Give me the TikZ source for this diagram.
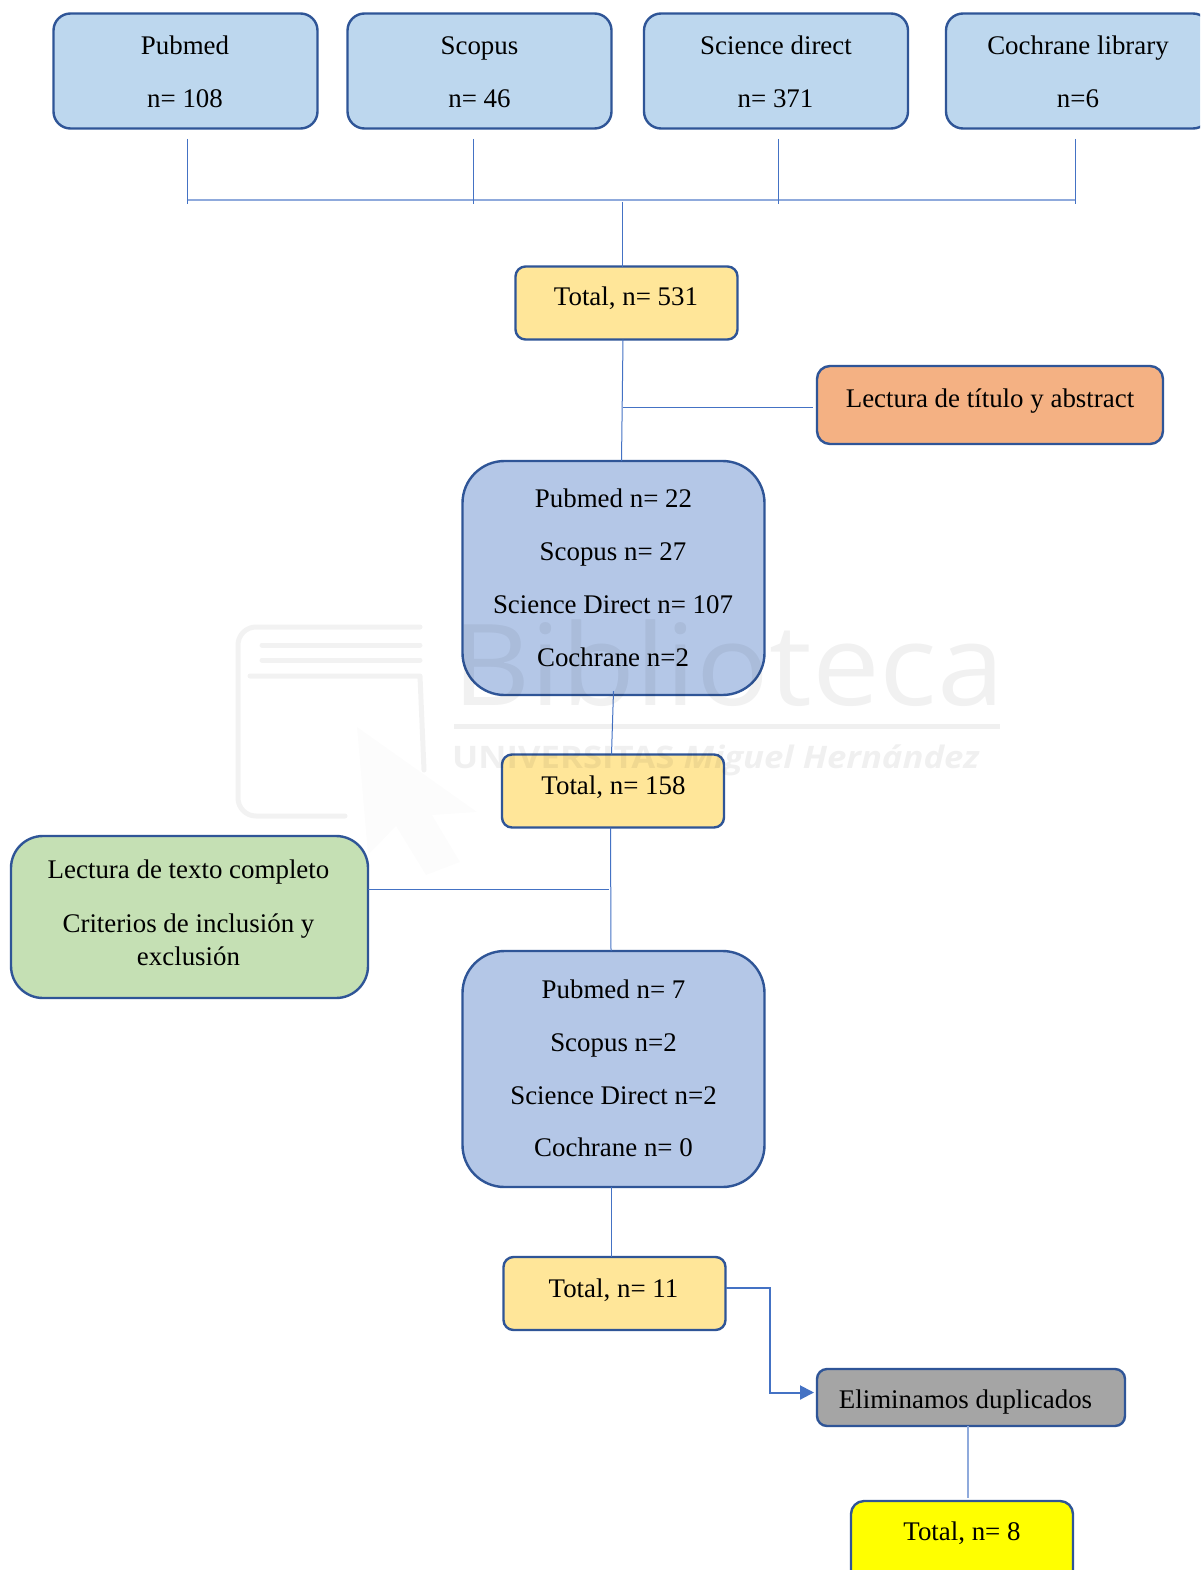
\documentclass[tikz,border=0pt]{standalone}
\usepackage{fontspec}
\setmainfont{Liberation Serif}
\newfontfamily\wmfont[FakeStretch=1.07]{Open Sans}
\newfontfamily\wmsmall[FakeStretch=1.12]{Open Sans}
\usetikzlibrary{arrows.meta}
\definecolor{edgeblue}{HTML}{2F5597}
\definecolor{linkblue}{HTML}{4472C4}
\definecolor{paleblue}{HTML}{8FAADC}
\definecolor{skyfill}{HTML}{BDD7EE}
\definecolor{bluefill}{HTML}{B4C7E7}
\definecolor{sandfill}{HTML}{FFE699}
\definecolor{orangefill}{HTML}{F4B183}
\definecolor{greenfill}{HTML}{C5E0B4}
\definecolor{greyfill}{HTML}{A5A5A5}
\definecolor{brightyellow}{RGB}{255,255,0}
\tikzset{
  x=1pt,y=-1pt,
  card/.style={draw=edgeblue,line width=2.4pt,inner sep=0pt,outer sep=0pt},
  source/.style={card,fill=skyfill,rounded corners=17pt,minimum width=264pt,minimum height=115pt},
  total/.style={card,fill=sandfill,rounded corners=10pt,minimum width=222pt,minimum height=73pt},
  group/.style={card,fill=bluefill,rounded corners=42pt,minimum width=302pt},
  txt/.style={anchor=base,inner sep=0pt,text=black,font=\fontsize{26.9}{32}\selectfont},
  link/.style={draw=linkblue,line width=1pt},
  palelink/.style={draw=paleblue,line width=2pt},
  mark1/.style={opacity=.05,draw=black,line width=5pt,line join=round,line cap=round},
}
\begin{document}
\begin{tikzpicture}
\fill[white] (0,0) rectangle (1200,1570);
\clip (0,0) rectangle (1200,1570);

% boxes
\node[source] (pub) at (185.5,71) {};
\node[source] (sco) at (479.5,71) {};
\node[source] (sci) at (776,71) {};
\node[source] (coc) at (1078,71) {};
\node[total] (t531) at (626.5,303) {};
\node[card,fill=orangefill,rounded corners=13pt,minimum width=346pt,minimum height=78pt] (tit) at (990,405) {};
\node[group,minimum height=234pt] (g1) at (613.5,578) {};
\node[total] (t158) at (613,791) {};
\node[card,fill=greenfill,rounded corners=32pt,minimum width=357pt,minimum height=162pt] (full) at (189.5,917) {};
\node[group,minimum height=236pt] (g2) at (613.5,1069) {};
\node[total] (t11) at (614.5,1293.5) {};
\node[card,fill=greyfill,rounded corners=10pt,minimum width=308pt,minimum height=57pt] (dup) at (971,1397.5) {};
\node[card,fill=brightyellow,rounded corners=13pt,minimum width=222pt,minimum height=100pt] (t8) at (962,1551) {};

% free ends of the top collector
\coordinate (a1) at (187.5,139);
\coordinate (a2) at (473.5,139);
\coordinate (a3) at (778,139);
\coordinate (a4) at (1075,139);
\coordinate (b1) at (187.5,204);
\coordinate (b2) at (473.5,204);
\coordinate (b3) at (778,204);
\coordinate (b4) at (1075,204);
\coordinate (h1) at (187.5,200.5);
\coordinate (h2) at (1075,200.5);
\coordinate (c1) at (622.5,202);
\coordinate (m1) at (623,407);
\coordinate (m2) at (609,889);

% connectors
\draw[palelink] (h1) -- (h2);
\draw[link] (a1) -- (b1);
\draw[link] (a2) -- (b2);
\draw[link] (a3) -- (b3);
\draw[link] (a4) -- (b4);
\draw[link] (c1) -- ([xshift=-4pt]t531.north);
\draw[link] ([xshift=-3.5pt]t531.south) -- ([xshift=8pt]g1.north);
\draw[link] (m1) -- ([xshift=-4pt,yshift=-2pt]tit.west);
\draw[link] ([yshift=4pt]g1.south) -- ([xshift=-1.5pt]t158.north);
\draw[link] ([xshift=-2.5pt]t158.south) -- ([xshift=-2.5pt]g2.north);
\draw[link] (m2) -- ([yshift=28pt]full.east);
\draw[link] ([xshift=-2pt]g2.south) -- ([xshift=-3pt]t11.north);
\draw[draw=linkblue,line width=2pt,-{Triangle[length=14pt,width=14pt]}]
  ([yshift=5.5pt]t11.east) -- ++(44,0) |- ([xshift=-3pt,yshift=5pt]dup.west);
\draw[palelink] ([xshift=-3.5pt]dup.south) -- ([xshift=5.5pt,yshift=3pt]t8.north);

% texts
\node[txt] (pub1) at (185,55) {Pubmed};
\node[txt] (pub2) at (185,108) {n= 108};
\node[txt] (sco1) at (479.5,55) {Scopus};
\node[txt] (sco2) at (479.5,108) {n= 46};
\node[txt] (sci1) at (776,55) {Science direct};
\node[txt] (sci2) at (775.5,108) {n= 371};
\node[txt] (coc1) at (1078,55) {Cochrane library};
\node[txt] (coc2) at (1078,108) {n=6};
\node[txt] (t531t) at (626,305) {Total, n= 531};
\node[txt] (titt) at (990,407) {Lectura de título y abstract};
\node[txt] (g1a) at (613.5,507) {Pubmed n= 22};
\node[txt] (g1b) at (613,560) {Scopus n= 27};
\node[txt] (g1c) at (613,613) {Science Direct n= 107};
\node[txt] (g1d) at (613,666) {Cochrane n=2};
\node[txt] (t158t) at (613.5,794) {Total, n= 158};
\node[txt] (fulla) at (188.5,878) {Lectura de texto completo};
\node[txt] (fullb) at (188.5,932) {Criterios de inclusión y};
\node[txt] (fullc) at (188.5,965) {exclusión};
\node[txt] (g2a) at (613.5,998) {Pubmed n= 7};
\node[txt] (g2b) at (613.5,1051) {Scopus n=2};
\node[txt] (g2c) at (613.5,1104) {Science Direct n=2};
\node[txt] (g2d) at (613.5,1156) {Cochrane n= 0};
\node[txt] (t11t) at (613.5,1297) {Total, n= 11};
\node[txt] (dupt) at (965.5,1408) {Eliminamos duplicados};
\node[txt] (t8t) at (962,1540) {Total, n= 8};

% faint watermark
\draw[mark1,rounded corners=18pt] (420,627) -- (238,627) -- (238,816) -- (345,816);
\draw[mark1] (262,645) -- (420,645);
\draw[mark1] (262,660) -- (420,660);
\draw[mark1] (250,676) -- (420,676) -- (424,770);
\fill[black,opacity=.012] (357,727) -- (477,812) -- (432,815) -- (460,862) -- (426,875) -- (396,826) -- (368,855) -- cycle;
\node[anchor=base west,inner sep=0pt,text=black,opacity=.055,font=\wmfont\fontsize{113}{113}\selectfont] (wm1) at (452,705) {Biblioteca};
\draw[black,opacity=.06,line width=5pt] (454,726) -- (1000,726);
\node[anchor=base west,inner sep=0pt,text=black,opacity=.06,font=\wmsmall\bfseries\fontsize{31}{31}\selectfont] (wm2) at (452,768) {UNIVERSITAS \textit{Miguel Hernández}};
\end{tikzpicture}
\end{document}
